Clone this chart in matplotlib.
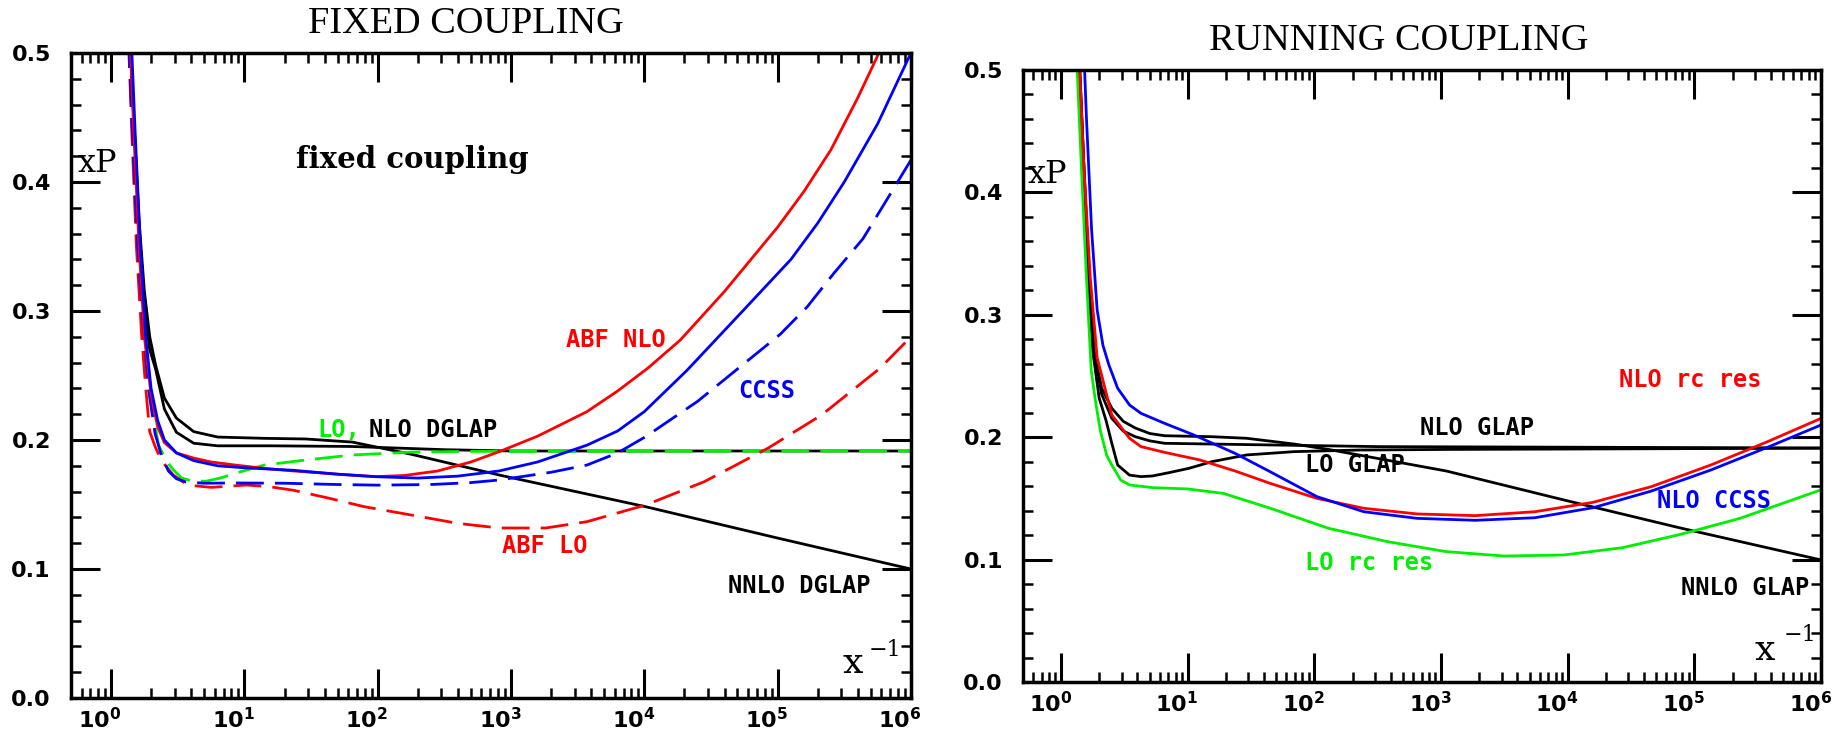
import numpy as np
import matplotlib
matplotlib.use("Agg")
import matplotlib.pyplot as plt
import matplotlib.ticker as ticker
import matplotlib.transforms as transforms

#curves: log10(1/x) and xP
#left panel, fixed coupling
nnloFixedLx = [0.13, 0.17, 0.21, 0.25, 0.29, 0.334, 0.40, 0.49, 0.62, 0.80, 1.15, 1.46, 1.81, 2.25, 2.91, 4.01, 5.0, 6.0]
nnloFixedY = [0.54, 0.45, 0.37, 0.315, 0.28, 0.258, 0.2325, 0.217, 0.2065, 0.2023, 0.2013, 0.2008, 0.1984, 0.189, 0.1729, 0.1483, 0.124, 0.100]

nloFixedLx = [0.13, 0.17, 0.21, 0.25, 0.29, 0.334, 0.40, 0.49, 0.62, 0.80, 1.2, 1.8, 2.5, 3.0, 6.0]
nloFixedY = [0.54, 0.45, 0.365, 0.305, 0.27, 0.255, 0.224, 0.206, 0.1975, 0.1955, 0.1955, 0.195, 0.1925, 0.1915, 0.1915]

loFixedLx = [0.12, 0.16, 0.2, 0.24, 0.29, 0.356, 0.42, 0.466, 0.53, 0.6, 0.71, 0.82, 0.93, 1.15, 1.46, 1.81, 2.25, 2.69, 6.0]
loFixedY = [0.54, 0.44, 0.35, 0.28, 0.235, 0.196, 0.183, 0.177, 0.1705, 0.1685, 0.168, 0.1705, 0.1742, 0.1806, 0.1845, 0.1884, 0.1906, 0.1912, 0.1915]

abfLoLx = [0.12, 0.155, 0.19, 0.23, 0.26, 0.29, 0.33, 0.378, 0.466, 0.576, 0.752, 1.016, 1.19, 1.37, 1.63, 1.90, 2.25, 2.60, 2.91, 3.26, 3.57, 4.01, 4.45, 4.93, 5.33, 5.77, 6.0]
abfLoY = [0.54, 0.44, 0.35, 0.28, 0.24, 0.2065, 0.195, 0.184, 0.1729, 0.165, 0.1633, 0.1651, 0.1638, 0.161, 0.155, 0.1483, 0.1419, 0.1354, 0.1318, 0.1318, 0.1367, 0.1496, 0.1677, 0.1938, 0.2194, 0.2558, 0.28]

ccssLoLx = [0.12, 0.16, 0.2, 0.24, 0.28, 0.33, 0.378, 0.43, 0.49, 0.56, 0.7, 0.93, 1.3, 1.7, 2.0, 2.4, 2.7, 2.91, 3.3, 3.57, 3.8, 4.01, 4.4, 4.71, 5.02, 5.22, 5.42, 5.64, 5.8, 6.0]
ccssLoY = [0.54, 0.44, 0.35, 0.29, 0.24, 0.205, 0.188, 0.176, 0.17, 0.1675, 0.1665, 0.1667, 0.1665, 0.1655, 0.165, 0.1655, 0.167, 0.169, 0.175, 0.1806, 0.19, 0.2026, 0.23, 0.256, 0.282, 0.303, 0.329, 0.356, 0.383, 0.417]

abfNloLx = [0.13, 0.17, 0.21, 0.25, 0.3, 0.35, 0.4, 0.49, 0.62, 0.75, 0.93, 1.15, 1.37, 1.7, 1.98, 2.2, 2.45, 2.7, 2.91, 3.2, 3.57, 3.8, 4.03, 4.27, 4.6, 5.0, 5.2, 5.4, 5.6, 5.76, 5.85]
abfNloY = [0.54, 0.44, 0.35, 0.28, 0.235, 0.21, 0.198, 0.19, 0.186, 0.183, 0.1806, 0.178, 0.176, 0.1735, 0.1716, 0.1725, 0.176, 0.183, 0.1909, 0.203, 0.222, 0.238, 0.256, 0.2775, 0.315, 0.365, 0.393, 0.425, 0.465, 0.5, 0.52]

ccssLx = [0.14, 0.18, 0.22, 0.26, 0.3, 0.35, 0.4, 0.49, 0.62, 0.8, 1.0, 1.37, 1.7, 2.0, 2.3, 2.6, 2.91, 3.2, 3.57, 3.8, 4.0, 4.32, 4.72, 5.1, 5.3, 5.5, 5.75, 6.0]
ccssY = [0.54, 0.44, 0.35, 0.28, 0.24, 0.215, 0.2, 0.19, 0.184, 0.18, 0.1785, 0.1765, 0.1735, 0.1715, 0.1705, 0.172, 0.176, 0.183, 0.196, 0.207, 0.222, 0.254, 0.298, 0.34, 0.368, 0.40, 0.445, 0.5]

#right panel, running coupling
nnloRunLx = [0.13, 0.18, 0.22, 0.26, 0.32, 0.40, 0.49, 0.585, 0.7, 0.817, 1.19, 1.465, 1.84, 2.11, 3.04, 3.97, 4.89, 6.0]
nnloRunY = [0.54, 0.42, 0.33, 0.27, 0.24, 0.2236, 0.213, 0.2075, 0.203, 0.2012, 0.2004, 0.1991, 0.1944, 0.190, 0.1724, 0.1487, 0.1258, 0.0997]

nloRunLx = [0.13, 0.18, 0.22, 0.26, 0.32, 0.40, 0.49, 0.585, 0.7, 0.817, 1.19, 2.5, 6.0]
nloRunY = [0.54, 0.42, 0.33, 0.27, 0.235, 0.2154, 0.205, 0.2004, 0.197, 0.195, 0.1944, 0.1923, 0.1912]

loRunLx = [0.12, 0.17, 0.21, 0.25, 0.3, 0.355, 0.4, 0.446, 0.54, 0.63, 0.72, 0.85, 1.01, 1.19, 1.465, 1.84, 2.35, 3.04, 6.0]
loRunY = [0.54, 0.42, 0.33, 0.27, 0.232, 0.2134, 0.195, 0.1773, 0.169, 0.1678, 0.1683, 0.171, 0.1746, 0.180, 0.1855, 0.1882, 0.1895, 0.190, 0.191]

loRcLx = [0.11, 0.16, 0.2, 0.237, 0.27, 0.31, 0.36, 0.40, 0.47, 0.54, 0.72, 1.0, 1.28, 1.65, 2.11, 2.58, 3.04, 3.50, 3.97, 4.43, 4.89, 5.36, 6.0]
loRcY = [0.54, 0.42, 0.33, 0.255, 0.23, 0.205, 0.185, 0.1773, 0.165, 0.161, 0.1588, 0.1577, 0.1541, 0.142, 0.1256, 0.1146, 0.1065, 0.1029, 0.1038, 0.1097, 0.1206, 0.1337, 0.157]

nloRcLx = [0.13, 0.18, 0.23, 0.284, 0.40, 0.54, 0.63, 0.817, 1.095, 1.373, 1.65, 2.02, 2.39, 2.81, 3.27, 3.74, 4.20, 4.66, 5.13, 5.59, 6.0]
nloRcY = [0.54, 0.42, 0.33, 0.265, 0.2181, 0.1991, 0.1923, 0.1876, 0.1814, 0.1724, 0.1623, 0.150, 0.1419, 0.1373, 0.1359, 0.1391, 0.1468, 0.1596, 0.1773, 0.1969, 0.2154]

ccssRunLx = [0.17, 0.2, 0.24, 0.284, 0.33, 0.377, 0.446, 0.54, 0.63, 0.817, 1.048, 1.373, 1.65, 2.02, 2.39, 2.81, 3.27, 3.74, 4.20, 4.66, 5.13, 5.59, 6.0]
ccssRunY = [0.54, 0.46, 0.37, 0.304, 0.275, 0.259, 0.240, 0.2263, 0.2195, 0.2113, 0.2018, 0.1868, 0.1718, 0.1514, 0.1391, 0.1337, 0.1321, 0.1342, 0.1424, 0.156, 0.1732, 0.1923, 0.21]

xTickExp = [0, 1, 2, 3, 4, 5, 6]
yTicks = [0.0, 0.1, 0.2, 0.3, 0.4, 0.5]

RED = "#ff0000"
BLUE = "#0000ff"
GREEN = "#00ee00"
DASH = (0, (10, 4))
LABELFONT = dict(family="DejaVu Sans Mono", weight="bold", size=17)


def curve(ax, lx, y, color, ls="-"):
    ax.plot(10 ** np.array(lx), y, color=color, lw=2, linestyle=ls)


def setupAxes(ax):
    ax.set_xscale("log")
    ax.set_xlim(0.5, 1e6)
    ax.set_ylim(0, 0.5)
    ax.set_xticks([10.0 ** e for e in xTickExp])
    ax.set_xticklabels([r"$\mathbf{10^{%d}}$" % e for e in xTickExp])
    ax.xaxis.set_minor_locator(ticker.LogLocator(base=10, subs=np.arange(2, 10), numticks=20))
    ax.xaxis.set_minor_formatter(ticker.NullFormatter())
    ax.set_yticks(yTicks)
    ax.set_yticklabels(["%.1f" % v for v in yTicks])
    ax.yaxis.set_minor_locator(ticker.MultipleLocator(0.02))
    ax.tick_params(which="both", direction="in", top=True, right=True, labelsize=16)
    ax.tick_params(which="major", length=21, width=2.2)
    ax.tick_params(which="minor", length=7.5, width=1.8)
    ax.tick_params(axis="x", which="major", pad=6.5)
    ax.tick_params(axis="y", which="major", pad=14.5)
    for lab in ax.get_yticklabels():
        lab.set_fontweight("bold")
    for s in ax.spines.values():
        s.set_linewidth(2.5)
    #x tick labels sit a bit left of their ticks
    shift = transforms.ScaledTranslation(-0.11, 0, ax.figure.dpi_scale_trans)
    for t in ax.xaxis.get_major_ticks():
        t.label1.set_transform(t.label1.get_transform() + shift)


fig = plt.figure(figsize=(18.38, 7.35), dpi=100)
axL = fig.add_axes([0.0386, 0.0503, 0.4570, 0.8776])
axR = fig.add_axes([0.5566, 0.0721, 0.4342, 0.8327])

#fixed coupling
curve(axL, nnloFixedLx, nnloFixedY, "black")
curve(axL, nloFixedLx, nloFixedY, "black")
curve(axL, loFixedLx, loFixedY, GREEN, DASH)
curve(axL, abfLoLx, abfLoY, RED, DASH)
curve(axL, ccssLoLx, ccssLoY, BLUE, DASH)
curve(axL, abfNloLx, abfNloY, RED)
curve(axL, ccssLx, ccssY, BLUE)
setupAxes(axL)

t = axL.transAxes
axL.text(0.008, 0.8155, "xP", transform=t, family="DejaVu Serif", size=23)
axL.text(0.268, 0.822, "fixed coupling", transform=t, family="DejaVu Serif", weight="bold", size=21)
axL.text(0.589, 0.544, "ABF NLO", transform=t, color=RED, **LABELFONT)
axL.text(0.795, 0.465, "CCSS", transform=t, color=BLUE, **LABELFONT)
axL.text(0.293, 0.405, "LO,", transform=t, color=GREEN, **LABELFONT)
axL.text(0.355, 0.405, "NLO DGLAP", transform=t, color="black", **LABELFONT)
axL.text(0.513, 0.2248, "ABF LO", transform=t, color=RED, **LABELFONT)
axL.text(0.782, 0.163, "NNLO DGLAP", transform=t, color="black", **LABELFONT)
axL.text(0.918, 0.0388, "x", transform=t, family="DejaVu Serif", size=26)
axL.text(0.950, 0.0656, "\u22121", transform=t, family="DejaVu Serif", size=16)

#running coupling
curve(axR, nnloRunLx, nnloRunY, "black")
curve(axR, nloRunLx, nloRunY, "black")
curve(axR, loRunLx, loRunY, "black")
curve(axR, loRcLx, loRcY, GREEN)
curve(axR, nloRcLx, nloRcY, RED)
curve(axR, ccssRunLx, ccssRunY, BLUE)
setupAxes(axR)

t = axR.transAxes
axR.text(0.006, 0.815, "xP", transform=t, family="DejaVu Serif", size=23)
axR.text(0.747, 0.482, "NLO rc res", transform=t, color=RED, **LABELFONT)
axR.text(0.4975, 0.4036, "NLO GLAP", transform=t, color="black", **LABELFONT)
axR.text(0.353, 0.343, "LO GLAP", transform=t, color="black", **LABELFONT)
axR.text(0.7945, 0.2843, "NLO CCSS", transform=t, color=BLUE, **LABELFONT)
axR.text(0.353, 0.183, "LO rc res", transform=t, color=GREEN, **LABELFONT)
axR.text(0.8246, 0.142, "NNLO GLAP", transform=t, color="black", **LABELFONT)
axR.text(0.917, 0.036, "x", transform=t, family="DejaVu Serif", size=26)
axR.text(0.9536, 0.0674, "\u22121", transform=t, family="DejaVu Serif", size=16)

fig.text(0.2535, 0.955, "FIXED COUPLING", ha="center", va="baseline", family="Liberation Serif", size=27.5)
fig.text(0.761, 0.932, "RUNNING COUPLING", ha="center", va="baseline", family="Liberation Serif", size=27.5)

fig.savefig("out.png", dpi=100)
